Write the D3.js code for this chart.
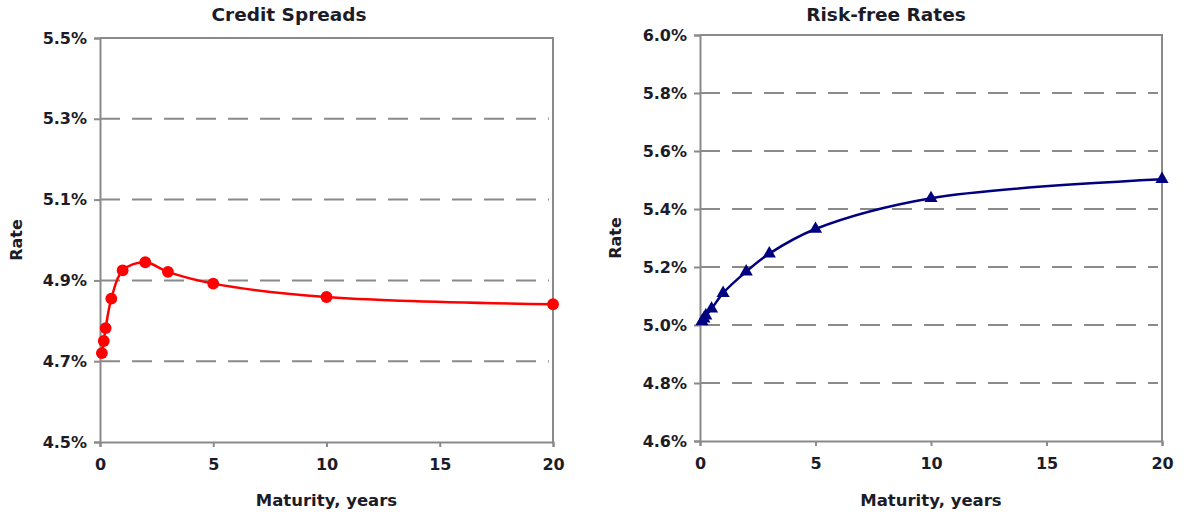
<!DOCTYPE html>
<html>
<head>
<meta charset="utf-8">
<script src="https://cdn.jsdelivr.net/npm/d3@7/dist/d3.min.js"></script>
<style>
  html, body { margin: 0; padding: 0; background: #fff; }
  svg { display: block; }
  text { font-family: "DejaVu Sans", Verdana, sans-serif; font-weight: bold; fill: #1c1c28; }
</style>
</head>
<body>
<svg id="chart" width="1184" height="517"></svg>
<script>
// Maturities in years (1m, 2m, 3m, 6m, 1y, 2y, 3y, 5y, 10y, 20y)
const maturities = [1/12, 1/6, 0.25, 0.5, 1, 2, 3, 5, 10, 20];

// Credit curve rates, %
const creditRates = [4.72, 4.75, 4.782, 4.855, 4.925, 4.945, 4.921, 4.892, 4.859, 4.841];

// Risk-free curve rates, %
const riskFreeRates = [5.012, 5.022, 5.032, 5.056, 5.11, 5.184, 5.246, 5.331, 5.437, 5.503];

// Axis ticks
const xTicks = [0, 5, 10, 15, 20];
const creditYTicks = [4.5, 4.7, 4.9, 5.1, 5.3, 5.5];
const riskFreeYTicks = [4.6, 4.8, 5.0, 5.2, 5.4, 5.6, 5.8, 6.0];

const svg = d3.select("#chart");

function drawPanel(opts) {
  const g = svg.append("g");
  const x = d3.scaleLinear().domain([0, 20]).range([opts.left, opts.right]);
  const y = d3.scaleLinear().domain(opts.yDomain).range([opts.bottom, opts.top]);
  const grey = "#8a8a8a";

  // dashed horizontal gridlines (skip the top and bottom edges)
  g.append("g").selectAll("line")
    .data(opts.yTicks.slice(1, -1))
    .join("line")
      .attr("x1", opts.left)
      .attr("x2", opts.right - 4)
      .attr("y1", d => y(d))
      .attr("y2", d => y(d))
      .attr("stroke", grey)
      .attr("stroke-width", 2)
      .attr("stroke-dasharray", "20,12");

  // top and right frame
  g.append("path")
    .attr("d", `M${opts.left},${opts.top}H${opts.right}V${opts.bottom}`)
    .attr("fill", "none")
    .attr("stroke", grey)
    .attr("stroke-width", 2);

  // y axis
  const yAxis = g.append("g")
    .attr("transform", `translate(${opts.left},0)`)
    .call(d3.axisLeft(y).tickValues(opts.yTicks).tickSize(6).tickPadding(7)
      .tickFormat(d => d.toFixed(1) + "%"));
  // x axis
  const xAxis = g.append("g")
    .attr("transform", `translate(0,${opts.bottom})`)
    .call(d3.axisBottom(x).tickValues(xTicks).tickSize(5).tickPadding(12)
      .tickFormat(d3.format("d")));

  [yAxis, xAxis].forEach(a => {
    a.select(".domain").attr("stroke", grey).attr("stroke-width", 2);
    a.selectAll(".tick line").attr("stroke", grey).attr("stroke-width", 2);
    a.selectAll(".tick text")
      .attr("font-family", "'DejaVu Sans', Verdana, sans-serif")
      .attr("font-weight", "bold")
      .attr("font-size", 16)
      .attr("fill", "#1c1c28");
  });

  // title
  g.append("text")
    .attr("x", opts.titleX)
    .attr("y", 21)
    .attr("text-anchor", "middle")
    .attr("font-size", 18.5)
    .text(opts.title);

  // x axis label
  g.append("text")
    .attr("x", (opts.left + opts.right) / 2)
    .attr("y", 506)
    .attr("text-anchor", "middle")
    .attr("font-size", 16.5)
    .text("Maturity, years");

  // y axis label
  g.append("text")
    .attr("transform", `translate(${opts.yLabelX},${(opts.top + opts.bottom) / 2}) rotate(-90)`)
    .attr("text-anchor", "middle")
    .attr("font-size", 16)
    .text("Rate");

  const pts = maturities.map((m, i) => [m, opts.values[i]]);

  // smoothed curve
  g.append("path")
    .datum(pts)
    .attr("fill", "none")
    .attr("stroke", opts.color)
    .attr("stroke-width", 2.5)
    .attr("d", d3.line().x(d => x(d[0])).y(d => y(d[1])).curve(d3.curveCatmullRom.alpha(0.5)));

  // markers
  g.append("g").selectAll("path")
    .data(pts)
    .join("path")
      .attr("transform", d => `translate(${x(d[0])},${y(d[1])})`)
      .attr("d", d3.symbol().type(opts.symbol).size(opts.symbolSize))
      .attr("fill", opts.color);
}

drawPanel({
  title: "Credit Spreads",
  titleX: 289,
  left: 100, right: 553, top: 38, bottom: 442,
  yDomain: [4.5, 5.5],
  yTicks: creditYTicks,
  values: creditRates,
  color: "#ff0000",
  symbol: d3.symbolCircle,
  symbolSize: 110,
  yLabelX: 22
});

drawPanel({
  title: "Risk-free Rates",
  titleX: 886,
  left: 700, right: 1162, top: 35, bottom: 441,
  yDomain: [4.6, 6.0],
  yTicks: riskFreeYTicks,
  values: riskFreeRates,
  color: "#000080",
  symbol: d3.symbolTriangle,
  symbolSize: 75,
  yLabelX: 621
});
</script>
</body>
</html>
